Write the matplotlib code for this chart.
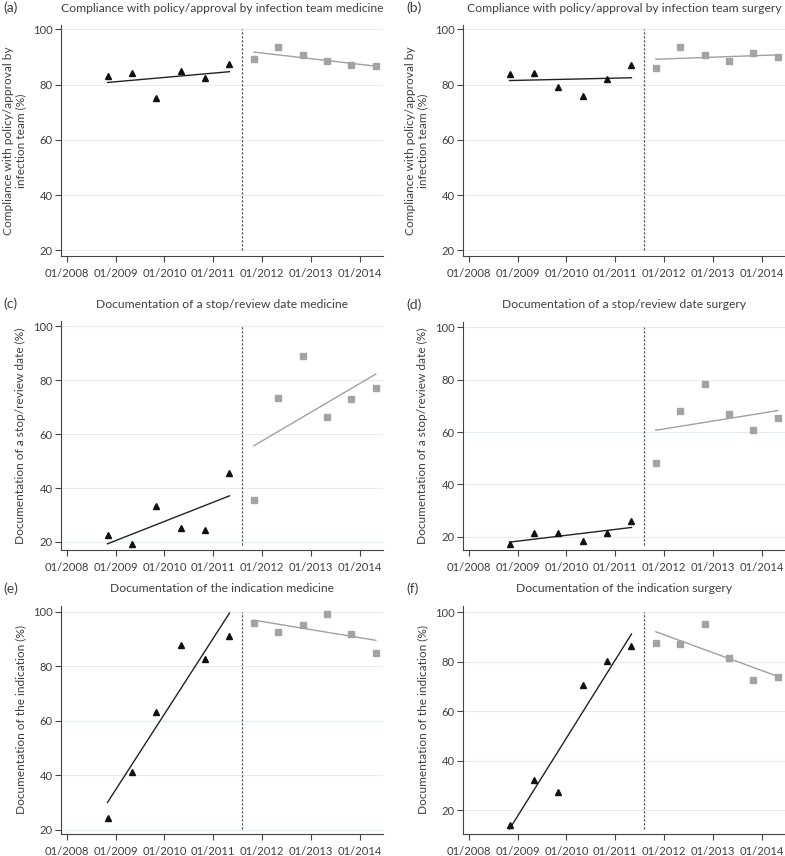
import matplotlib
matplotlib.use("Agg")
import matplotlib.pyplot as plt
import numpy as np

plt.rcParams['font.family'] = ['Lato', 'DejaVu Sans']

# x positions: survey dates (decimal year)
pre_dates = [2008 + 10/12, 2009 + 4/12, 2009 + 10/12, 2010 + 4/12, 2010 + 10/12, 2011 + 4/12]
post_dates = [2011 + 10/12, 2012 + 4/12, 2012 + 10/12, 2013 + 4/12, 2013 + 10/12, 2014 + 4/12]
intervention = 2011 + 7/12
tick_years = [2008, 2009, 2010, 2011, 2012, 2013, 2014]
tick_labels = ['01/2008', '01/2009', '01/2010', '01/2011', '01/2012', '01/2013', '01/2014']

labels = ['(a)', '(b)', '(c)', '(d)', '(e)', '(f)']
titles = [
    'Compliance with policy/approval by infection team medicine',
    'Compliance with policy/approval by infection team surgery',
    'Documentation of a stop/review date medicine',
    'Documentation of a stop/review date surgery',
    'Documentation of the indication medicine',
    'Documentation of the indication surgery',
]
ylabels = [
    'Compliance with policy/approval by\ninfection team (%)',
    'Compliance with policy/approval by\ninfection team (%)',
    'Documentation of a stop/review date (%)',
    'Documentation of a stop/review date (%)',
    'Documentation of the indication (%)',
    'Documentation of the indication (%)',
]

pre_a = [83.1, 84.1, 75.3, 84.8, 82.5, 87.6]
post_a = [89.3, 93.7, 90.7, 88.6, 87.1, 86.9]
pre_b = [84.0, 84.2, 79.1, 75.8, 82.2, 87.3]
post_b = [86.1, 93.5, 90.6, 88.4, 91.3, 90.0]
pre_c = [22.4, 19.3, 33.3, 25.1, 24.6, 45.4]
post_c = [35.4, 73.5, 89.0, 66.4, 72.9, 77.1]
pre_d = [17.3, 21.3, 21.3, 18.5, 21.3, 25.9]
post_d = [48.1, 67.9, 78.5, 66.8, 60.9, 65.2]
pre_e = [24.3, 41.2, 63.2, 87.7, 82.7, 91.2]
post_e = [96.1, 92.6, 95.1, 99.1, 92.1, 85.1]
pre_f = [14.3, 32.3, 27.3, 70.8, 80.5, 86.5]
post_f = [87.7, 87.3, 95.2, 81.5, 72.8, 74.0]

# fitted trend lines (start, end)
pre_trend = [[80.8, 84.7], [81.5, 82.5], [19.3, 37.1], [18.0, 23.6], [30.1, 99.6], [12.5, 91.2]]
post_trend = [[91.8, 86.7], [89.2, 90.8], [55.7, 82.3], [60.7, 68.2], [97.0, 89.6], [92.1, 74.1]]

pre_all = [pre_a, pre_b, pre_c, pre_d, pre_e, pre_f]
post_all = [post_a, post_b, post_c, post_d, post_e, post_f]
ylims = [(18, 101.6), (18, 101.6), (17, 102), (15, 102), (18.5, 102.2), (10.5, 102.5)]

W, H = 785, 856
fig = plt.figure(figsize=(W/100, H/100), dpi=100)

# axes boxes in pixels: left, top, right, bottom
boxes = [
    (61, 25, 383, 256), (463, 25, 785, 256),
    (61, 321, 383, 550), (463, 322, 785, 550),
    (61, 606, 383, 834), (463, 606, 785, 834),
]
label_x = [3, 406]
text_col = '#404040'
for i in range(6):
    l, t, r, b = boxes[i]
    ax = fig.add_axes([l/W, 1 - b/H, (r - l)/W, (b - t)/H])
    ax.set_xlim(2007.88, 2014.48)
    ax.set_ylim(*ylims[i])
    ax.set_yticks([20, 40, 60, 80, 100])
    ax.set_xticks(tick_years)
    ax.set_xticklabels(tick_labels)
    ax.grid(axis='y', color='#e3edf2', lw=0.8)
    ax.set_axisbelow(True)
    for s in ['top', 'right']:
        ax.spines[s].set_visible(False)
    for s in ['left', 'bottom']:
        ax.spines[s].set_color('#444444')
        ax.spines[s].set_linewidth(0.8)
    ax.tick_params(colors='#444444', labelcolor=text_col, labelsize=8.1, length=4.5, width=0.8)
    ax.tick_params(axis='x', pad=4.0)
    ax.tick_params(axis='y', pad=1.5)
    ax.set_ylabel(ylabels[i], fontsize=8.6, color=text_col, labelpad=5, linespacing=1.15)

    ylo = ylims[i][0]
    ax.plot([intervention, intervention], [ylo + 2, 100], color='#555555', lw=0.9, ls=(0, (1.8, 1.4)))
    ax.plot([pre_dates[0], pre_dates[-1]], pre_trend[i], color='#222222', lw=1.0)
    ax.plot([post_dates[0], post_dates[-1]], post_trend[i], color='#a0a0a0', lw=1.0)
    ax.plot(pre_dates, pre_all[i], ls='none', marker='^', ms=4.8, color='#111111')
    ax.plot(post_dates, post_all[i], ls='none', marker='s', ms=4.3, color='#a3a3a3')

    cx = (l + r) / 2
    fig.text(cx/W, 1 - (t - 17)/H, titles[i], ha='center', va='center', fontsize=8.7, color=text_col)
    fig.text(label_x[i % 2]/W, 1 - (t - 17)/H, labels[i], ha='left', va='center', fontsize=10, color=text_col)

fig.savefig('out.png', dpi=100)
